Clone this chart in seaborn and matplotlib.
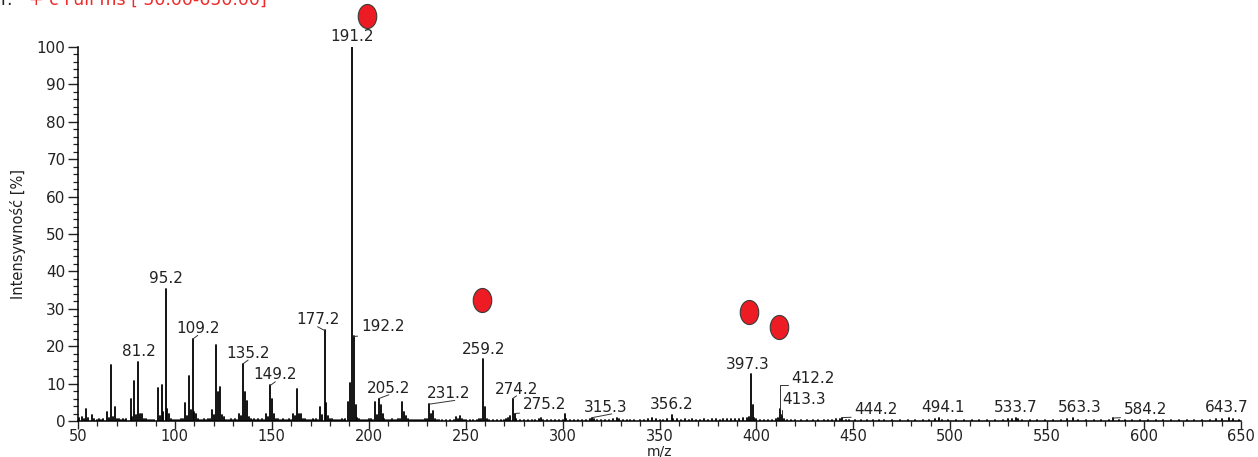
import matplotlib
matplotlib.use("Agg")
import matplotlib.pyplot as plt
import numpy as np
import pandas as pd
import seaborn as sns
from matplotlib.path import Path
from matplotlib.ticker import MultipleLocator

# ---- spectrum: centroid m/z values and relative intensities [%] ----
mz = [
    50.5, 52, 53, 54.1, 55, 57, 58, 60, 61, 62, 63, 65, 66, 67.1, 68, 69.1, 70, 71, 72, 73,
    74, 75, 77.1, 78, 79.1, 80, 81.2, 82.1, 83.1, 84, 85, 86, 87, 88, 89, 91.1, 92.1, 93.1,
    94.1, 95.2, 96.1, 97.1, 98, 99, 100, 101, 102, 103, 104, 105.1, 106.1, 107.1, 108.1,
    109.2, 110.1, 111.1, 112, 113, 114, 115, 116, 117, 118, 119.1, 120.1, 121.1, 122.1,
    123.1, 124.1, 125.1, 126, 127, 128, 129, 130, 131, 132, 133.1, 134.1, 135.2, 136.1,
    137.1, 138, 139, 140, 141, 142, 143, 144, 145, 146, 147.1, 148.1, 149.2, 150.1, 151.1,
    152, 153, 154, 155, 156, 157, 158, 159, 160, 161.1, 162.1, 163.1, 164.1, 165.1, 166,
    167, 168, 169, 170, 171, 172, 173, 174, 175.1, 176.1, 177.2, 178.1, 179.1, 180, 181,
    182, 183, 184, 185, 186, 187, 188, 189.1, 190.1, 191.2, 192.2, 193.2, 194, 195, 196,
    197, 198, 199, 200,
    201, 202, 203.1, 204.1, 205.2, 206.1, 207.1, 208, 209, 210, 211, 212, 213, 214, 215,
    216, 217.1, 218.1, 219.1, 220, 221, 222, 223, 224, 225, 226, 227, 228, 229, 230, 231.2,
    232.1, 233.1, 234, 235, 236, 238, 240, 242, 244, 245, 246, 247, 248, 249, 250, 252, 254,
    256, 257, 258, 259.2, 260.2, 261, 262, 264, 266, 268, 270, 271, 272, 273, 274.2, 275.2,
    276, 278, 280, 282, 284, 286, 288, 289, 290, 292, 294, 296, 298, 300, 301.2, 302, 304, 306,
    308, 310, 312, 314, 315.3, 316, 318, 320, 322, 324, 326, 328, 329, 331, 333, 335, 337,
    340, 342, 344, 346, 348, 350, 352, 354, 356.2, 357, 359, 361, 363, 365, 367, 369, 371,
    373, 375, 377, 379, 381, 383, 385, 387, 389, 391, 393, 395, 396, 397.3, 398.3, 399, 400,
    402, 404, 406, 408, 410, 411, 412.2, 413.3, 414, 416, 418, 420, 423, 426, 429, 432, 435,
    437, 439, 441, 443, 444.2, 446, 448,
    451, 454, 457, 460, 463, 466, 470, 474, 478, 482, 486, 489, 492, 494.1, 496, 499, 503,
    507, 511, 515, 519, 523, 527, 530, 532, 533.7, 535, 537, 541, 545, 549, 553, 557, 560,
    563.3, 566, 570, 574, 578, 582, 584.2, 587, 590, 594, 598, 602, 606, 610, 614, 618, 622,
    626, 630, 634, 637, 640, 643.7, 646, 649,
]
intensity = [
    0.8, 1.0, 0.6, 3.3, 0.7, 1.6, 0.5, 0.4, 0.5, 0.4, 0.5, 2.4, 0.8, 15.0, 1.2, 3.8, 0.6, 0.6, 0.4, 0.5,
    0.4, 0.6, 5.9, 1.0, 10.8, 1.6, 15.8, 2.0, 1.8, 0.6, 0.5, 0.4, 0.4, 0.4, 0.4, 8.9, 1.3, 9.6,
    2.5, 35.2, 3.3, 1.8, 0.5, 0.4, 0.3, 0.4, 0.4, 0.6, 0.5, 4.8, 1.4, 12.0, 3.0,
    21.9, 2.4, 2.0, 0.5, 0.4, 0.4, 0.6, 0.4, 0.6, 0.5, 3.0, 1.6, 20.4, 7.8,
    9.0, 1.6, 1.0, 0.4, 0.4, 0.4, 0.5, 0.4, 0.6, 0.4, 2.0, 1.4, 15.3, 7.8,
    5.4, 1.0, 0.6, 0.4, 0.5, 0.4, 0.5, 0.4, 0.6, 0.4, 2.0, 1.2, 9.5, 6.0, 1.9,
    0.6, 0.6, 0.4, 0.4, 0.5, 0.4, 0.4, 0.6, 0.4, 1.9, 1.3, 8.5, 2.0, 2.0, 0.5,
    0.5, 0.4, 0.4, 0.4, 0.5, 0.4, 0.5, 0.4, 3.7, 1.6, 24.2, 4.8, 1.3, 0.5, 0.5,
    0.4, 0.4, 0.4, 0.4, 0.5, 0.4, 0.5, 5.0, 10.2, 100.0, 22.6, 4.4, 0.8, 0.5, 0.4,
    0.4, 0.4, 0.4, 0.5,
    0.5, 0.4, 5.1, 1.5, 6.0, 4.3, 2.0, 0.6, 0.4, 0.4, 0.4, 0.5, 0.4, 0.4, 0.5,
    0.6, 5.0, 2.4, 1.3, 0.5, 0.4, 0.4, 0.4, 0.3, 0.4, 0.3, 0.4, 0.3, 0.5, 0.5, 4.5,
    1.8, 2.8, 0.6, 0.4, 0.3, 0.3, 0.4, 0.3, 0.4, 1.2, 0.5, 1.3, 0.5, 0.4, 0.3, 0.3, 0.3,
    0.4, 0.6, 0.6, 16.6, 3.8, 0.6, 0.3, 0.3, 0.3, 0.4, 0.3, 0.5, 0.8, 1.4, 6.0, 2.0,
    0.6, 0.3, 0.4, 0.3, 0.3, 0.4, 0.5, 0.7, 0.4, 0.3, 0.3, 0.4, 0.3, 0.4, 2.0, 0.5, 0.3, 0.3,
    0.3, 0.3, 0.4, 0.5, 0.9, 0.6, 0.4, 0.3, 0.3, 0.4, 0.5, 0.8, 0.5, 0.3, 0.3, 0.3, 0.3,
    0.4, 0.3, 0.5, 0.7, 0.5, 0.3, 0.4, 0.5, 1.5, 0.6, 0.5, 0.4, 0.6, 0.4, 0.5, 0.3, 0.4,
    0.5, 0.4, 0.6, 0.5, 0.4, 0.6, 0.5, 0.6, 0.5, 0.6, 0.7, 0.8, 1.2, 12.6, 4.2, 0.8, 0.5,
    0.4, 0.3, 0.4, 0.4, 0.6, 0.8, 3.3, 1.6, 0.6, 0.3, 0.4, 0.3, 0.3, 0.3, 0.4, 0.3, 0.4,
    0.4, 0.3, 0.5, 0.5, 0.9, 0.4, 0.3,
    0.3, 0.4, 0.3, 0.4, 0.3, 0.3, 0.3, 0.4, 0.3, 0.4, 0.3, 0.4, 0.5, 0.7, 0.4, 0.3, 0.3,
    0.4, 0.3, 0.3, 0.3, 0.4, 0.4, 0.5, 0.6, 0.9, 0.5, 0.4, 0.3, 0.3, 0.4, 0.3, 0.4, 0.5,
    0.7, 0.4, 0.3, 0.3, 0.4, 0.4, 0.8, 0.4, 0.3, 0.3, 0.4, 0.3, 0.3, 0.4, 0.3, 0.3, 0.4,
    0.3, 0.4, 0.4, 0.5, 0.6, 0.8, 0.5, 0.3,
]

# labelled peaks (m/z)
labelled_mz = [191.2, 95.2, 81.2, 109.2, 135.2, 149.2, 177.2, 192.2, 205.2, 231.2, 259.2,
               274.2, 275.2, 315.3, 356.2, 397.3, 412.2, 413.3, 444.2, 494.1, 533.7, 563.3,
               584.2, 643.7]

# red ellipse markers placed above selected peaks
marker_mz = [199.1, 258.5, 396.2, 411.7]
marker_int = [108.3, 32.4, 29.1, 25.1]

scan_filter = "+ c Full ms [ 50.00-650.00]"

# label placement: pixel offset of text bottom-centre from peak top, leader style
label_layout = {
    191.2: (0, 3, None), 95.2: (0, 3, None), 81.2: (0, 3, None),
    109.2: (5, 3, "slant"), 135.2: (5, 3, "slant"), 149.2: (5, 3, "slant"),
    177.2: (-7, 3, "slant"), 192.2: (29, 2, "slant"), 205.2: (10, 3, "slant"),
    231.2: (19, 3, "slant"), 259.2: (0, 2, None), 274.2: (4, 2, "slant"),
    275.2: (30, 2, "slant"), 315.3: (13, 3, "slant"), 356.2: (0, 3, None),
    397.3: (-3, 2, None), 412.2: (33, 23, "elbow"), 413.3: (22, 8, "elbow"),
    444.2: (34, 1, "slant"), 494.1: (4, 3, None), 533.7: (0, 3, None),
    563.3: (7, 3, None), 584.2: (32, 1, "slant"), 643.7: (-2, 3, None),
}

sns.set_theme(style="ticks")
plt.rcParams["font.family"] = ["DejaVu Sans"]

DPI = 100
W, H = 1258, 457
fig = plt.figure(figsize=(W / DPI, H / DPI), dpi=DPI)
ax = fig.add_axes([78 / W, 1 - 421 / H, (1241 - 78) / W, (421 - 47) / H])

# stick spectrum: every peak is a unit made of two points (baseline, apex)
peak_id = np.arange(len(mz))
df = pd.DataFrame({
    "peak": np.repeat(peak_id, 2),
    "mz": np.repeat(mz, 2),
    "intensity": np.column_stack([np.zeros(len(intensity)), intensity]).ravel(),
})
sns.lineplot(data=df, x="mz", y="intensity", units="peak", estimator=None,
             sort=False, color="black", lw=1.3, ax=ax, legend=False)

ax.set_xlim(50, 650)
ax.set_ylim(0, 100)
sns.despine(ax=ax)
for s in ("left", "bottom"):
    ax.spines[s].set_linewidth(1.1)
    ax.spines[s].set_color("black")

ax.xaxis.set_major_locator(MultipleLocator(50))
ax.xaxis.set_minor_locator(MultipleLocator(10))
ax.yaxis.set_major_locator(MultipleLocator(10))
ax.yaxis.set_minor_locator(MultipleLocator(2))
ax.tick_params(axis="x", which="major", direction="out", length=6, width=1.0,
               labelsize=10.5, pad=0, colors="#222222")
ax.tick_params(axis="x", which="minor", direction="out", length=3.5, width=0.9, colors="#222222")
ax.tick_params(axis="y", which="major", direction="out", length=7, width=1.0,
               labelsize=11, pad=2, colors="#222222")
ax.tick_params(axis="y", which="minor", direction="out", length=3.5, width=0.9, colors="#222222")

ax.set_xlabel("m/z", fontsize=10, labelpad=0, color="#222222")
ax.set_ylabel("Intensywność [%]", fontsize=10.5, labelpad=8, color="#222222",
              family=["Liberation Sans Narrow", "DejaVu Sans"])

# peak labels
lookup = dict(zip(mz, intensity))
px2pt = 72 / DPI
for m in labelled_mz:
    dx, dy, kind = label_layout[m]
    kw = dict(xy=(m, lookup[m]), xytext=(dx * px2pt, dy * px2pt), textcoords="offset points",
              ha="center", va="bottom", fontsize=11, color="#222222", annotation_clip=False)
    if kind == "slant":
        rel = 0.65 if abs(dx) > 12 else 0.5
        kw["arrowprops"] = dict(arrowstyle="-", lw=0.7, color="#333333", shrinkA=0, shrinkB=0,
                                relpos=(rel if dx >= 0 else 1 - rel, 0.05))
    elif kind == "elbow":
        kw["arrowprops"] = dict(arrowstyle="-", lw=0.7, color="#333333", shrinkA=0, shrinkB=0,
                                relpos=(0.75, 0.05),
                                connectionstyle="angle,angleA=0,angleB=90,rad=0")
    ax.annotate(f"{m:.1f}", **kw)

# ellipse marker
circle = Path.unit_circle()
ellipse = Path(circle.vertices * np.array([0.77, 1.0]), circle.codes)
sns.scatterplot(x=marker_mz, y=marker_int, marker=ellipse, s=300, color="#ed1c24",
                edgecolor="#3a3a3a", linewidth=0.8, ax=ax, clip_on=False, zorder=5,
                legend=False)

# scan filter header (partly above the canvas)
fig.text(13 / W, 1 - 5 / H, "T:", ha="right", va="baseline", fontsize=12.5, color="#222222")
fig.text(29 / W, 1 - 5 / H, scan_filter, ha="left", va="baseline", fontsize=12.5,
         color="#ee2a2a")

fig.savefig("out.png", dpi=DPI)
